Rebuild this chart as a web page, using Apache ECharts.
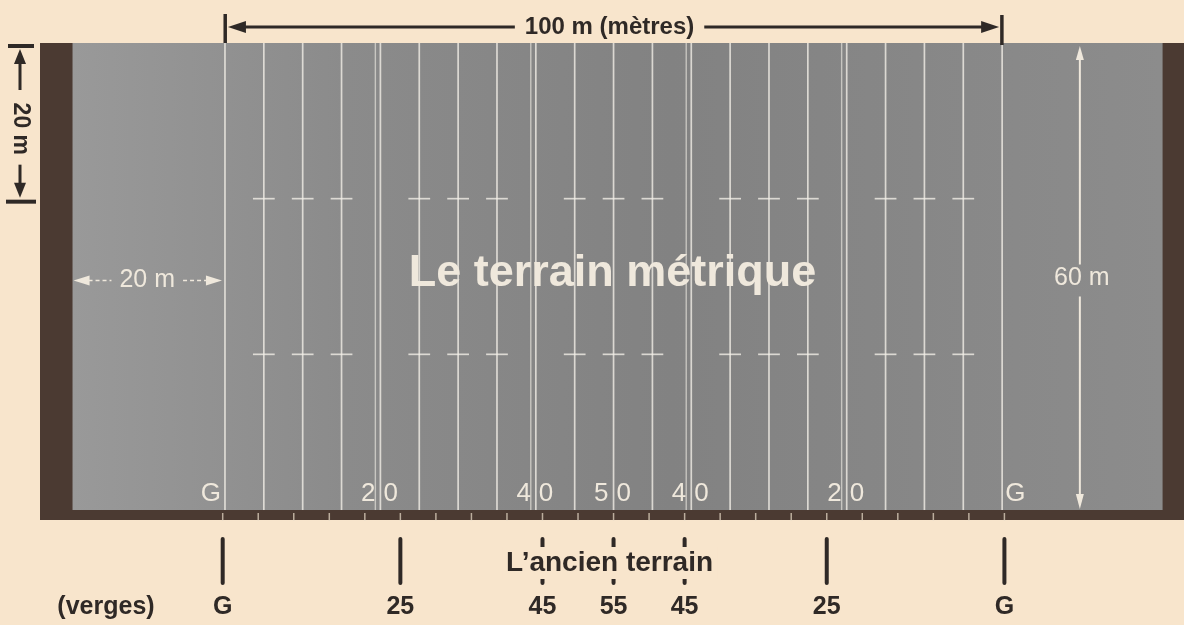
<!DOCTYPE html>
<html>
<head>
<meta charset="utf-8">
<script src="https://cdn.jsdelivr.net/npm/echarts@6/dist/echarts.min.js"></script>
<style>
html,body{margin:0;padding:0;background:#f8e5cc;}
#c{width:1184px;height:625px;}
</style>
</head>
<body>
<div id="c"></div>
<script>
// ---------------- data ----------------
const fieldLength = 100;      // metres, goal line to goal line
const endZoneDepth = 20;      // metres
const fieldWidth = 60;        // metres
const hashFromSideline = 20;  // metres
const yardLines = [0, 5, 10, 15, 20, 25, 30, 35, 40, 45, 50, 55, 60, 65, 70, 75, 80, 85, 90, 95, 100];
const doubledLines = [20, 40, 60, 80];
const hashPositions = [5, 10, 15, 25, 30, 35, 45, 50, 55, 65, 70, 75, 85, 90, 95];
const hashRows = [20, 40];
const metricMarkPos = [0, 20, 40, 50, 60, 80, 100];
const metricMarkLabels = ['G', '20', '40', '50', '40', '20', 'G'];
const oldYardPos = [0, 25, 45, 55, 65, 85, 110];
const oldYardLabels = ['G', '25', '45', '55', '45', '25', 'G'];
const oldYardTicks = [0, 5, 10, 15, 20, 25, 30, 35, 40, 45, 50, 55, 60, 65, 70, 75, 80, 85, 90, 95, 100, 105, 110];
const oldFieldLength = 110;   // yards
const metresPerYard = 0.9144;
const titleText = 'Le terrain métrique';
const lengthText = '100 m (mètres)';
const oldFieldText = "L\u2019ancien terrain";
const unitText = '(verges)';
const endZoneText = '20 m';
const widthText = '60 m';
const hashText = '20 m';

// ---------------- styling ----------------
const X_MIN = -23.8, X_MAX = 123.4;
const INK = '#2f2926';
const CHALK = '#efe8dc';
const LINE = 'rgba(244,240,232,0.78)';
const BROWN = '#4b3a32';
const FF = "'Liberation Sans', Arial, Helvetica, sans-serif";
const mctx = document.createElement('canvas').getContext('2d');
function tw(text, font) { mctx.font = font; return mctx.measureText(text).width; }
function yd2m(yd) { return fieldLength / 2 + (yd - oldFieldLength / 2) * metresPerYard; }
function txt(text, x, y, font, fill, align, extra) {
  const st = Object.assign({ text: text, x: x, y: y, font: font, fill: fill,
    align: align || 'center', textAlign: align || 'center',
    verticalAlign: 'middle', textVerticalAlign: 'middle' }, extra || {});
  return { type: 'text', style: st };
}
function tri(p1, p2, p3, fill) {
  return { type: 'polygon', shape: { points: [p1, p2, p3] }, style: { fill: fill } };
}
function seg(x1, y1, x2, y2, stroke, w, dash) {
  return { type: 'line', shape: { x1: x1, y1: y1, x2: x2, y2: y2 },
    style: { stroke: stroke, lineWidth: w, lineDash: dash || null, lineCap: 'butt' } };
}

const chart = echarts.init(document.getElementById('c'));

const option = {
  animation: false,
  backgroundColor: '#f8e5cc',
  grid: { left: 40, right: 0, top: 43, bottom: 115 },
  xAxis: { type: 'value', min: X_MIN, max: X_MAX, show: false },
  yAxis: { type: 'value', min: 0, max: fieldWidth, show: false },
  series: [
    // field surface, end strips, bottom band with old 5-yard ticks
    {
      type: 'custom', z: 1, silent: true, data: [[0, 0]],
      renderItem: function (params, api) {
        const tl = api.coord([X_MIN, fieldWidth]);
        const br = api.coord([X_MAX, 0]);
        const a = api.coord([-endZoneDepth, fieldWidth]);
        const b = api.coord([fieldLength + endZoneDepth, 0]);
        const kids = [
          { type: 'rect', shape: { x: tl[0], y: tl[1], width: br[0] - tl[0], height: br[1] - tl[1] + 10 }, style: { fill: BROWN } },
          { type: 'rect', shape: { x: a[0] + 3, y: a[1], width: b[0] - a[0] + 2, height: b[1] - a[1] },
            style: { fill: new echarts.graphic.LinearGradient(0, 0, 1, 0, [
              { offset: 0, color: '#999999' }, { offset: 0.25, color: '#8b8b8b' },
              { offset: 0.55, color: '#828282' }, { offset: 1, color: '#8c8c8c' }]) } }
        ];
        oldYardTicks.forEach(function (yd) {
          const p = api.coord([yd2m(yd), 0]);
          kids.push(seg(p[0], p[1] + 3, p[0], p[1] + 11, 'rgba(236,224,204,0.7)', 1.5));
        });
        return { type: 'group', children: kids };
      }
    },
    // yard lines every 5 m
    {
      type: 'custom', z: 2, silent: true,
      data: yardLines.map(function (v) { return [v, 0]; }),
      renderItem: function (params, api) {
        const x = api.value(0);
        const t = api.coord([x, fieldWidth]), b = api.coord([x, 0]);
        const kids = [seg(t[0], t[1], b[0], b[1], LINE, 1.7)];
        if (doubledLines.indexOf(x) >= 0) {
          const t2 = api.coord([x - 0.65, fieldWidth]), b2 = api.coord([x - 0.65, 0]);
          kids.push(seg(t2[0], t2[1], b2[0], b2[1], 'rgba(244,240,232,0.6)', 1.4));
        }
        return { type: 'group', children: kids };
      }
    },
    // hash marks
    {
      type: 'custom', z: 3, silent: true,
      data: hashRows.reduce(function (acc, r) {
        return acc.concat(hashPositions.map(function (p) { return [p, r]; }));
      }, []),
      renderItem: function (params, api) {
        const l = api.coord([api.value(0) - 1.4, api.value(1)]);
        const r = api.coord([api.value(0) + 1.4, api.value(1)]);
        return seg(l[0], l[1], r[0], r[1], LINE, 1.7);
      }
    },
    // metric field markings (G, 20, 40, 50 ...)
    {
      type: 'custom', z: 4, silent: true,
      data: metricMarkPos.map(function (p, i) { return [p, i]; }),
      renderItem: function (params, api) {
        const i = api.value(1);
        const lab = metricMarkLabels[i];
        const p = api.coord([api.value(0), 0]);
        const y = p[1] - 16;
        const font = 'normal 26px ' + FF;
        if (lab.length === 1) {
          if (i === 0) return txt(lab, p[0] - 4, y, font, CHALK, 'right');
          return txt(lab, p[0] + 3, y, font, CHALK, 'left');
        }
        return { type: 'group', children: [
          txt(lab.charAt(0), p[0] - 5, y, font, CHALK, 'right'),
          txt(lab.charAt(1), p[0] + 3, y, font, CHALK, 'left')
        ] };
      }
    },
    // old field markers (yards) below the field
    {
      type: 'custom', z: 5, silent: true,
      data: oldYardPos.map(function (yd, i) { return [yd2m(yd), i]; }),
      renderItem: function (params, api) {
        const p = api.coord([api.value(0), 0]);
        const bottom = p[1];
        return { type: 'group', children: [
          { type: 'rect', shape: { x: p[0] - 2, y: bottom + 27, width: 4, height: 48, r: 2 }, style: { fill: INK } },
          txt(oldYardLabels[api.value(1)], p[0], bottom + 97, 'bold 25px ' + FF, INK, 'center')
        ] };
      }
    },
    // annotations
    {
      type: 'custom', z: 6, silent: true, data: [[0, 0]],
      renderItem: function (params, api) {
        const kids = [];
        const top = api.coord([0, fieldWidth])[1];
        const bot = api.coord([0, 0])[1];
        const mid = api.coord([0, fieldWidth / 2])[1];
        const gl = api.coord([X_MIN, 0])[0];
        const x0 = api.coord([0, 0])[0];
        const x100 = api.coord([fieldLength, 0])[0];
        const xc = api.coord([fieldLength / 2, 0])[0];

        // top dimension: 100 m
        const yT = top - 16;
        const fT = 'bold 24px ' + FF;
        const wT = tw(lengthText, fT);
        kids.push({ type: 'rect', shape: { x: x0 - 1.5, y: yT - 13, width: 3.5, height: 29 }, style: { fill: INK } });
        kids.push({ type: 'rect', shape: { x: x100 - 2, y: yT - 12, width: 3.5, height: 30 }, style: { fill: INK } });
        kids.push(tri([x0 + 3, yT], [x0 + 21, yT - 6], [x0 + 21, yT + 6], INK));
        kids.push(tri([x100 - 3, yT], [x100 - 21, yT - 6], [x100 - 21, yT + 6], INK));
        kids.push(seg(x0 + 18, yT, xc - wT / 2 - 14, yT, INK, 3));
        kids.push(seg(xc + wT / 2 + 6, yT, x100 - 18, yT, INK, 3));
        kids.push(txt(lengthText, xc - 4, yT, fT, INK, 'center'));

        // left dimension: 20 m (sideline to hash)
        const xL = gl - 20;
        const yA = top;
        const yB = api.coord([0, fieldWidth - hashFromSideline])[1];
        kids.push({ type: 'rect', shape: { x: xL - 12, y: yA + 1, width: 26, height: 4 }, style: { fill: INK } });
        kids.push(tri([xL, yA + 6], [xL - 6, yA + 21], [xL + 6, yA + 21], INK));
        kids.push(seg(xL, yA + 18, xL, yA + 47, INK, 3));
        kids.push({ type: 'text', x: xL, y: (yA + yB) / 2 + 8, rotation: -Math.PI / 2,
          style: { text: hashText, x: 0, y: 0, font: 'bold 23px ' + FF, fill: INK,
            align: 'center', textAlign: 'center', verticalAlign: 'middle', textVerticalAlign: 'middle' } });
        kids.push(seg(xL, yB - 34, xL, yB - 12, INK, 3));
        kids.push(tri([xL, yB - 1], [xL - 6, yB - 16], [xL + 6, yB - 16], INK));
        kids.push({ type: 'rect', shape: { x: xL - 14, y: yB + 1, width: 30, height: 4 }, style: { fill: INK } });

        // title
        kids.push(txt(titleText, xc - 1, mid - 3, 'bold 45px ' + FF, CHALK, 'center'));

        // end zone depth 20 m
        const ezL = api.coord([-endZoneDepth, 0])[0] + 3;
        const ezC = api.coord([-endZoneDepth / 2, 0])[0];
        const yD = mid + 4;
        const fD = 'normal 25px ' + FF;
        const wD = tw(endZoneText, fD);
        kids.push(tri([ezL + 1, yD], [ezL + 17, yD - 5], [ezL + 17, yD + 5], CHALK));
        kids.push(seg(ezL + 16, yD, ezC - wD / 2 - 8, yD, CHALK, 1.6, [4, 3]));
        kids.push(txt(endZoneText, ezC, yD, fD, CHALK, 'center'));
        kids.push(seg(ezC + wD / 2 + 8, yD, x0 - 18, yD, CHALK, 1.6, [4, 3]));
        kids.push(tri([x0 - 3, yD], [x0 - 19, yD - 5], [x0 - 19, yD + 5], CHALK));

        // field width 60 m
        const xW = api.coord([fieldLength + endZoneDepth / 2, 0])[0];
        kids.push(tri([xW, top + 3], [xW - 4, top + 17], [xW + 4, top + 17], CHALK));
        kids.push(seg(xW, top + 15, xW, yD - 16, CHALK, 2));
        kids.push(seg(xW, yD + 16, xW, bot - 14, CHALK, 2));
        kids.push(tri([xW, bot - 1], [xW - 4, bot - 16], [xW + 4, bot - 16], CHALK));
        kids.push(txt(widthText, xW + 2, yD - 2, fD, CHALK, 'center'));

        // old field caption
        kids.push(txt(oldFieldText, api.coord([yd2m(oldFieldLength / 2), 0])[0] - 4, bot + 53,
          'bold 28px ' + FF, INK, 'center', { backgroundColor: '#f8e5cc', padding: [2, 4] }));
        kids.push(txt(unitText, gl + 66, bot + 97, 'bold 25px ' + FF, INK, 'center'));
        return { type: 'group', children: kids };
      }
    }
  ]
};
chart.setOption(option);
</script>
</body>
</html>
